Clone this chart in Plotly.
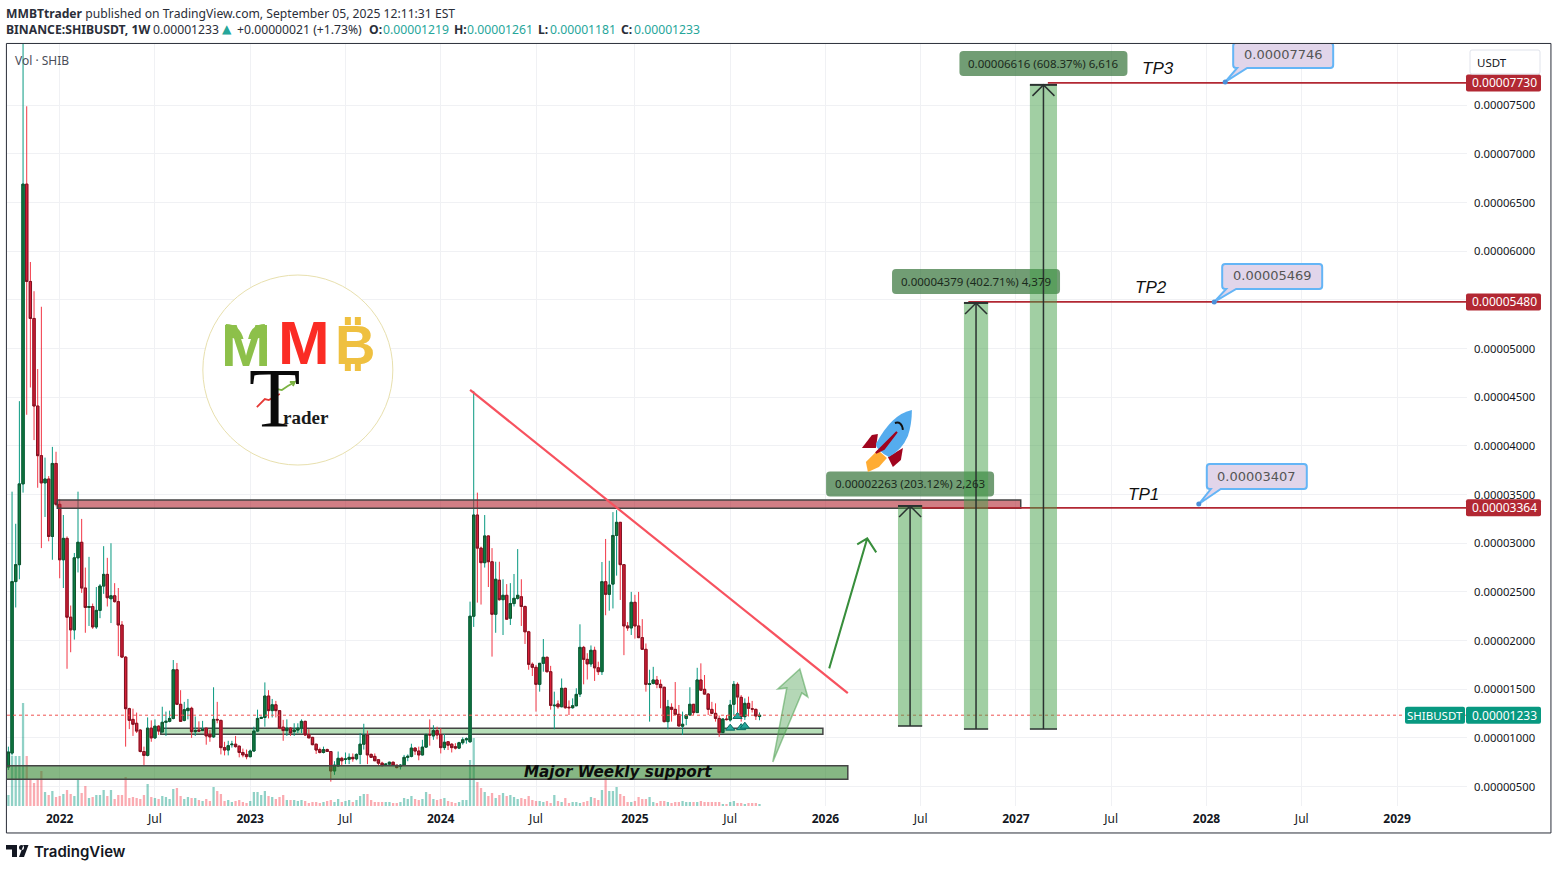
import plotly.graph_objects as go

# prices are in millionths of a USDT, x is the weekly bar number (0 = first week of 2022)
bars = list(range(-14, 192))

opens = [7.0,8.44,26.06,27.8,36.1,66.9,56.9,53.1,44.1,39.0,
    36.2,36.6,30.7,38.2,34.0,28.3,30.5,22.4,21.1,28.5,
    30.1,25.4,23.4,23.5,21.4,23.1,25.6,26.8,24.3,24.6,
    24.0,21.6,18.3,13.0,11.9,11.5,10.8,8.6,8.2,11.0,
    10.0,11.2,10.6,11.6,11.7,12.0,17.0,13.45,11.8,12.8,
    13.04,10.64,10.8,10.75,11.0,10.36,10.1,11.9,11.8,9.0,
    8.75,9.3,9.35,9.15,8.5,8.3,8.07,8.65,10.7,12.0,
    12.1,14.3,12.8,13.4,12.8,11.1,10.75,11.0,10.65,10.8,
    11.0,11.7,10.35,10.05,9.35,8.8,8.5,8.8,8.6,6.6,
    7.1,7.9,7.8,7.8,8.0,7.85,8.3,9.35,10.3,8.3,
    8.1,7.75,7.4,7.25,7.3,7.5,7.2,7.05,7.2,8.0,
    8.1,8.95,8.65,8.25,9.05,10.35,10.2,10.75,10.35,9.0,
    9.6,9.35,9.1,8.95,9.5,9.8,9.6,22.5,32.9,29.5,
    28.0,30.75,28.1,22.7,26.2,24.2,24.65,22.3,23.8,24.34,
    24.5,23.5,20.9,17.56,17.25,15.5,17.66,18.28,16.8,13.3,
    13.48,13.2,15.09,13.15,13.1,13.3,14.5,19.3,18.07,17.6,
    19.0,17.2,16.8,26.05,24.75,25.8,30.8,32.15,27.8,21.5,
    21.3,23.93,21.5,20.3,19.1,15.5,15.6,15.95,15.5,15.2,
    11.67,13.14,12.93,12.42,11.2,12.0,12.35,13.45,12.6,15.95,
    14.99,14.5,12.93,12.52,12.0,10.54,11.94,11.84,13.45,15.5,
    14.17,12.18,13.55,13.0,12.93,12.19]

closes = [8.55,26.06,27.8,36.1,66.9,56.9,53.1,44.1,39.0,36.2,
    36.6,30.7,38.2,34.0,28.3,30.5,22.4,21.1,28.5,30.1,
    25.4,23.4,23.5,21.4,23.1,25.6,26.8,24.4,24.6,24.0,
    21.6,18.3,13.0,11.8,11.4,10.7,8.6,8.2,11.0,10.0,
    11.2,10.7,11.6,11.7,12.0,17.0,13.45,11.7,12.9,13.04,
    10.64,10.75,10.7,10.85,10.2,10.1,11.9,11.85,9.0,8.75,
    9.2,9.35,9.1,8.5,8.25,8.07,8.65,10.7,12.0,12.1,
    14.3,12.8,13.4,12.8,11.0,10.75,11.0,10.5,10.8,11.0,
    11.7,10.3,10.0,9.3,8.75,8.5,8.8,8.6,6.6,7.2,
    7.9,7.65,7.83,8.0,7.85,8.3,9.35,10.3,8.25,8.0,
    7.65,7.4,7.2,7.3,7.5,7.2,6.95,7.2,8.0,8.1,
    8.95,8.65,8.25,9.05,10.35,10.3,10.75,10.3,9.0,9.55,
    9.25,9.0,8.95,9.5,9.8,9.9,22.5,32.9,29.5,28.0,
    30.75,28.1,22.7,26.3,24.2,24.65,22.2,23.8,24.34,24.65,
    23.5,20.9,17.56,17.25,15.5,17.66,18.28,16.8,13.34,13.35,
    13.2,15.09,13.1,13.1,13.3,14.47,19.3,18.07,17.6,19.0,
    17.2,16.8,26.05,24.75,25.7,30.8,32.15,27.8,21.5,21.3,
    23.93,21.5,20.3,19.1,15.5,15.55,15.95,15.5,15.16,11.67,
    13.2,12.93,12.42,11.22,11.4,12.35,13.45,12.6,15.95,14.9,
    14.5,12.93,12.52,12.0,10.54,11.94,11.88,13.38,15.5,14.2,
    12.18,13.55,13.04,12.95,12.25,12.33]

highs = [9.1,35.3,32.0,44.6,88.5,74.9,58.9,55.9,47.9,54.3,
    38.8,36.9,39.9,39.4,34.5,32.9,30.7,23.6,29.0,35.3,
    32.5,27.5,28.6,23.8,25.5,25.8,29.7,28.5,30.0,25.9,
    25.4,22.0,18.4,13.1,13.0,12.6,10.9,9.1,12.1,11.8,
    11.9,11.3,13.2,12.7,12.8,18.0,17.7,14.9,13.7,14.0,
    13.2,12.2,11.7,11.75,11.0,10.8,15.2,13.7,11.85,9.6,
    9.7,9.7,10.2,9.2,8.9,8.8,8.8,11.15,12.9,12.2,
    15.7,14.9,14.0,13.8,12.85,11.85,11.9,11.1,11.5,11.5,
    11.9,11.75,10.9,10.1,9.4,9.0,9.1,8.9,8.65,7.6,
    8.6,8.05,8.5,8.4,8.4,8.4,10.5,11.45,10.75,8.4,
    8.4,7.75,7.55,7.35,7.55,7.55,7.2,7.3,8.25,8.3,
    9.4,9.05,9.1,9.8,10.45,11.9,11.3,11.15,11.0,10.4,
    9.65,9.45,9.45,9.6,10.05,10.05,24.0,45.65,35.2,29.65,
    32.9,30.8,29.5,28.1,28.1,26.3,25.8,25.9,26.84,29.4,
    26.3,23.6,21.0,17.75,17.5,17.7,20.16,18.35,17.4,14.75,
    13.85,16.1,15.15,13.85,14.06,15.1,21.67,19.45,18.7,19.5,
    19.37,17.83,28.07,30.44,28.2,33.2,33.4,32.15,27.8,21.9,
    25.0,24.7,25.0,22.2,19.7,17.0,17.3,16.36,16.0,15.25,
    13.9,13.55,15.74,13.38,12.7,12.35,15.2,13.45,17.2,17.66,
    16.46,14.6,13.7,13.55,12.3,12.0,12.35,13.9,15.85,15.7,
    14.4,14.06,14.24,13.8,13.0,12.61]

lows = [6.7,8.2,23.4,26.3,35.2,43.2,46.0,40.6,35.7,29.5,
    32.7,30.2,28.3,33.8,26.4,25.4,17.1,18.8,20.1,27.0,
    24.9,20.8,21.5,21.2,21.2,22.3,24.8,23.5,21.8,23.9,
    18.4,18.2,9.1,10.9,10.2,10.5,8.5,7.2,8.1,9.6,
    9.9,10.3,10.6,10.2,11.6,11.9,13.4,11.65,11.7,11.9,
    10.0,10.2,10.6,10.7,9.3,9.6,10.0,11.5,8.3,8.2,
    8.2,9.0,9.0,8.0,8.0,7.8,8.0,8.6,10.6,11.95,
    11.15,12.0,12.1,12.1,10.9,9.7,10.2,10.2,10.2,10.5,
    10.5,10.2,10.0,9.25,8.35,8.4,8.4,8.55,5.5,6.2,
    7.05,7.1,7.3,7.3,7.55,7.7,7.3,8.8,7.3,8.0,
    7.65,7.2,7.0,7.1,7.1,7.1,6.85,6.75,7.2,7.6,
    8.0,8.25,7.7,8.2,9.0,9.2,9.8,9.85,8.4,8.75,
    8.75,8.5,8.8,8.85,9.3,9.4,9.5,21.4,23.9,23.7,
    27.5,25.5,18.35,20.8,24.1,20.57,22.15,21.6,23.5,24.2,
    21.5,19.65,17.0,16.36,12.7,14.75,16.8,16.7,12.9,10.88,
    13.0,13.15,13.0,12.35,13.0,13.25,14.2,15.5,16.0,17.3,
    15.85,16.46,16.46,22.6,23.07,23.3,26.67,24.17,18.5,21.0,
    20.57,20.2,20.25,19.05,14.75,11.67,15.5,15.1,13.04,11.6,
    10.88,11.67,12.35,11.2,10.3,11.3,12.3,12.35,12.55,14.85,
    14.45,12.35,12.45,11.67,10.1,10.5,11.8,11.67,12.35,12.6,
    11.67,11.84,12.2,12.6,11.84,11.81]

# volume, arbitrary units
volumes = [11,50,50,50,103,50,26,23,27,35,14,11,15,9,
    10,12,16,12,10,27,13,20,8,9,11,11,16,10,16,7,11,11,29,8,9,8,7,11,22,9,8,7,10,9,7,17,18,10,7,9,
    8,8,6,5,7,5,19,15,12,5,6,4,5,6,4,3,
    5,14,14,11,15,10,9,7,9,11,6,6,6,5,6,5,3,4,4,3,4,5,6,4,7,4,5,6,4,6,10,12,12,6,4,4,4,4,4,3,3,4,8,7,10,7,6,7,14,12,7,6,
    7,8,5,4,3,4,6,6,46,68,24,18,14,10,13,8,11,13,10,11,9,7,8,7,10,6,5,5,4,5,3,11,5,4,8,3,4,4,3,4,5,9,8,6,
    16,29,15,15,19,12,10,4,4,5,9,7,7,9,4,3,5,5,4,3,4,4,5,4,4,4,4,5,4,4,4,4,4,2,2,4,5,3,3,2,3,3,3,2]

assert len(opens) == len(closes) == len(highs) == len(lows) == len(volumes) == len(bars)

tick_bars = [0, 26, 52, 78, 104, 130, 157, 183, 209, 235, 261, 287, 313, 339, 365]
tick_labels = ["<b>2022</b>", "Jul", "<b>2023</b>", "Jul", "<b>2024</b>", "Jul", "<b>2025</b>", "Jul",
               "<b>2026</b>", "Jul", "<b>2027</b>", "Jul", "<b>2028</b>", "Jul", "<b>2029</b>"]
price_ticks = list(range(5, 80, 5))
price_labels = ["0.%08d" % (p * 100) for p in price_ticks]

pattern_bars = [183, 186, 187, 185]
pattern_prices = [11.0, 11.05, 11.2, 12.2]

tp_levels = [33.64, 54.80, 77.30]
tp_labels = ["0.00003364", "0.00005480", "0.00007730"]
last_price = 12.33
last_label = "0.00001233"

FIRST_BAR, LAST_BAR = -14.38, 384.1
LOW_PRICE, HIGH_PRICE = 3.0, 81.3
VOL_SCALE = 1 / 9.73

UP_WICK, DOWN_WICK = "#089981", "#f23645"
UP_BODY, DOWN_BODY = "#0b7d43", "#d81e36"
UP_EDGE, DOWN_EDGE = "#14532d", "#7a1524"
TEXT = "#131722"
GRID = "#f0f1f4"
TP_RED = "#b22833"
TEAL = "#089981"
UI_FONT = "Noto Sans"


def roundBox(x0, y0, x1, y1, r=3):
    return (f"M {x0+r} {y0} L {x1-r} {y0} Q {x1} {y0} {x1} {y0+r} L {x1} {y1-r} Q {x1} {y1} {x1-r} {y1} "
            f"L {x0+r} {y1} Q {x0} {y1} {x0} {y1-r} L {x0} {y0+r} Q {x0} {y0} {x0+r} {y0} Z")


def glyph(bar, price, path, fill="rgba(0,0,0,0)", color="rgba(0,0,0,0)", width=0, layer="above", xref="x", yref="y"):
    # path is in screen pixels around an anchor that sits on the axes
    return dict(type="path", xref=xref, yref=yref, xsizemode="pixel", ysizemode="pixel", xanchor=bar, yanchor=price,
                path=path, fillcolor=fill, line=dict(color=color, width=width), layer=layer)


def box(x0, x1, y0, y1, fill, edge="#444444", width=1.5, layer="above"):
    return dict(type="rect", x0=x0, x1=x1, y0=y0, y1=y1, fillcolor=fill, line=dict(color=edge, width=width), layer=layer)


def segment(x0, y0, x1, y1, color, width=1.5, dash="solid"):
    return dict(type="line", x0=x0, x1=x1, y0=y0, y1=y1, line=dict(color=color, width=width, dash=dash), layer="above")


def note(x, y, text, size=12, color=TEXT, family=UI_FONT, style="normal", xanchor="center", xshift=0, yshift=0, xref="x", yref="y", weight="normal"):
    return dict(x=x, y=y, xref=xref, yref=yref, text=text, showarrow=False, xanchor=xanchor, yanchor="middle",
                xshift=xshift, yshift=yshift, font=dict(size=size, color=color, family=family, style=style, weight=weight))


fig = go.Figure()

fig.add_trace(go.Bar(
    x=bars, y=[v * VOL_SCALE for v in volumes], base=LOW_PRICE, width=0.62,
    marker=dict(color=["rgba(8,153,129,0.45)" if c >= o else "rgba(242,54,69,0.42)" for o, c in zip(opens, closes)],
                line=dict(width=0)),
    hoverinfo="skip", showlegend=False
))
fig.add_trace(go.Candlestick(
    x=bars, open=opens, high=highs, low=lows, close=closes, whiskerwidth=0,
    increasing=dict(line=dict(color=UP_WICK, width=1), fillcolor=UP_BODY),
    decreasing=dict(line=dict(color=DOWN_WICK, width=1), fillcolor=DOWN_BODY),
    showlegend=False
))
fig.add_trace(go.Candlestick(
    x=bars, open=opens, close=closes,
    high=[max(o, c) for o, c in zip(opens, closes)],
    low=[min(o, c) for o, c in zip(opens, closes)], whiskerwidth=0,
    increasing=dict(line=dict(color=UP_EDGE, width=1), fillcolor=UP_BODY),
    decreasing=dict(line=dict(color=DOWN_EDGE, width=1), fillcolor=DOWN_BODY),
    showlegend=False
))
fig.add_trace(go.Scatter(
    x=pattern_bars, y=pattern_prices, mode="markers",
    marker=dict(symbol="triangle-up", size=8, color="#26a69a", line=dict(color="#0b6e62", width=1)),
    hoverinfo="skip", showlegend=False
))

shapes = []
notes = []

# support and resistance zones, trend line
shapes.append(box(27.6, 208.3, 10.37, 10.98, "rgba(76,175,80,0.4)", layer="between"))
shapes.append(box(-20, 215.1, 5.74, 7.14, "rgba(46,131,43,0.58)"))
shapes.append(box(-0.65, 262.3, 33.6, 34.45, "rgba(178,40,51,0.6)"))
shapes.append(segment(112, 45.75, 215.1, 14.6, "#f7525f", width=2.2))

# current price
shapes.append(segment(FIRST_BAR, last_price, LAST_BAR, last_price, "#ef5350", width=1, dash="dot"))

# take profit lines
for start, level in zip([235, 248, 269.7], tp_levels):
    shapes.append(segment(start, level, LAST_BAR, level, TP_RED, width=1.8))

# long position tools
for left, right, top, bottom, label, lx, ly in [
    (228.8, 235.4, 33.83, 11.22, "0.00002263 (203.12%) 2,263", 232.1, 36.1),
    (246.8, 253.4, 54.69, 10.91, "0.00004379 (402.71%) 4,379", 250.1, 56.9),
    (264.8, 272.2, 77.1, 10.91, "0.00006616 (608.37%) 6,616", 268.5, 79.3),
]:
    mid = (left + right) / 2
    shapes.append(box(left, right, bottom, top, "rgba(67,160,71,0.5)", edge="rgba(0,0,0,0)", width=0))
    shapes.append(segment(mid, bottom, mid, top, "#2a3230", width=1.5))
    shapes.append(segment(left, bottom, right, bottom, "#2a3230", width=1.5))
    shapes.append(segment(left, top, right, top, "#2a3230", width=2))
    shapes.append(glyph(mid, top, "M -11 -11 L 0 0 L 11 -11", color="#2a3230", width=1.5))
    shapes.append(glyph(lx, ly, roundBox(-84, -12.5, 84, 12.5, 4), fill="rgba(46,110,50,0.68)"))
    notes.append(note(lx, ly, label, size=11.5, color="#1b2a1c"))

# price note callouts
for bar, price, box_low, text in [
    (318.1, 77.4, 14, "0.00007746"),
    (315.1, 54.8, 13, "0.00005469"),
    (310.9, 34.03, 15, "0.00003407"),
]:
    callout = (f"M 8 {box_low+3} Q 8 {box_low} 11 {box_low} L 12 {box_low} L 0 0 L 22 {box_low} L 105 {box_low} "
               f"Q 108 {box_low} 108 {box_low+3} L 108 {box_low+22} Q 108 {box_low+25} 105 {box_low+25} "
               f"L 11 {box_low+25} Q 8 {box_low+25} 8 {box_low+22} Z")
    shapes.append(glyph(bar, price, callout, fill="#e1d5ea", color="#64b5f6", width=2))
    shapes.append(glyph(bar, price, "M -2.5 0 Q -2.5 2.5 0 2.5 Q 2.5 2.5 2.5 0 Q 2.5 -2.5 0 -2.5 Q -2.5 -2.5 -2.5 0 Z", fill="#4a90d9"))
    notes.append(note(bar, price, text, size=13, color="#555555", family="DejaVu Sans", xshift=58, yshift=box_low + 13))

for bar, price, text in [(299.8, 78.74, "TP3"), (297.8, 56.23, "TP2"), (295.9, 35.06, "TP1")]:
    notes.append(note(bar, price, text, size=17, color="#111111", family="Liberation Sans", style="italic"))

notes.append(note(152.5, 6.45, "<b>Major Weekly support</b>", size=15.2, color="#0d0d0d", family="DejaVu Sans", style="italic"))

# green arrows
shapes.append(glyph(220.4, 30.5, "M -38 -130 L 0 0 M -10 -6 L 0 0 L 9 -14", color="#388e3c", width=2))
shapes.append(glyph(202, 17.08, "M 0 0 L -22 -20 L -13 -19 L -27 -93 L 2 -24 L 8 -28 Z",
                    fill="rgba(76,160,80,0.42)", color="rgba(76,160,80,0.55)", width=1.5))

# rocket
ROCKET_BAR, ROCKET_PRICE = 225.5, 40.0
shapes.append(glyph(ROCKET_BAR, ROCKET_PRICE, "M -24 -2 L -14 11 L -8 12 L -10 -2 Z", fill="#a0041e"))
shapes.append(glyph(ROCKET_BAR, ROCKET_PRICE, "M 17 -2 L 15 -14 L 7 -21 L 2 -11 Z", fill="#a0041e"))
shapes.append(glyph(ROCKET_BAR, ROCKET_PRICE, "M -8 -4 L -20 -16 L -18 -26 L -7 -21 L 1 -12 Z", fill="#ffac33"))
shapes.append(glyph(ROCKET_BAR, ROCKET_PRICE, "M 26 36 Q 6 32 -10 2 Q -10 -4 3 -11 Q 16 -4 22 10 Q 26 22 26 36 Z", fill="#55acee"))
shapes.append(glyph(ROCKET_BAR, ROCKET_PRICE, "M 11 14 L -10 -7 L -2 -3 Z", fill="#a0041e", color="#a0041e", width=2))
shapes.append(glyph(ROCKET_BAR, ROCKET_PRICE, "M 9 23 Q 16 25 17 16", color="#111111", width=2))

# logo
shapes.append(dict(type="circle", xref="x", yref="y", xsizemode="pixel", ysizemode="pixel", xanchor=65, yanchor=47.8,
                   x0=-95, x1=95, y0=-95, y1=95, fillcolor="white", line=dict(color="#e8e0ae", width=1), layer="between"))
notes.append(note(65, 47.8, "<b>M</b>", size=60, color="#8dc04a", family="Liberation Sans", xshift=-52, yshift=25))
notes.append(note(65, 47.8, "<b>M</b>", size=62, color="#fb2c24", family="Liberation Sans", xshift=6, yshift=28))
notes.append(note(65, 47.8, "<b>B</b>", size=56, color="#efc040", family="Liberation Sans", xshift=57, yshift=26))
shapes.append(glyph(65, 47.8, "M -72 46 Q -58 46 -54 30 L -72 33 Z M -33 46 Q -47 46 -50 30 L -33 33 Z", fill="#8dc04a"))
shapes.append(glyph(65, 47.8, "M -60 31 L -54 10 L -46 10 L -40 31 Z", fill="#ffffff"))
shapes.append(glyph(65, 47.8, "M 47 53 L 47 45 L 53 45 L 53 53 Z M 57 53 L 57 45 L 63 45 L 63 53 Z "
                              "M 47 8 L 47 -1 L 53 -1 L 53 8 Z M 57 8 L 57 -1 L 63 -1 L 63 8 Z", fill="#efc040"))
shapes.append(glyph(65, 47.8, "M -2 21 Q -2 29 6 29 Q 14 29 14 21 Q 14 12 6 12 Q -2 12 -2 21 Z", fill="#ffffff"))
notes.append(note(65, 47.8, "T", size=84, color="#0a0a0a", family="Liberation Serif", xshift=-23, yshift=-28))
notes.append(note(65, 47.8, "<b>rader</b>", size=19, color="#1a1a1a", family="Liberation Serif", xshift=8, yshift=-47))
shapes.append(glyph(65, 47.8, "M -41 -37 L -33 -29 L -29 -30 L -24 -27 L -18 -24", color="#e53935", width=1.8))
shapes.append(glyph(65, 47.8, "M -26 -23 L -21 -19 L -16 -20 L -10 -16 L -3 -12 L -5 -16 M -3 -12 L -8 -12", color="#7cb342", width=1.8))

# price tags on the right
TAG_SIZE = 12
AXIS_SIZE = 11.3
for level, text in zip(tp_levels, tp_labels):
    shapes.append(glyph(1, level, roundBox(-1, -8.5, 74, 8.5, 2), fill=TP_RED, xref="paper"))
    notes.append(note(1, level, text, size=TAG_SIZE, color="white", xshift=37, xref="paper"))
shapes.append(glyph(1, last_price, roundBox(-1, -8.5, 74, 8.5, 2), fill=TEAL, xref="paper"))
shapes.append(glyph(1, last_price, roundBox(-62, -8.5, -2, 8.5, 2), fill=TEAL, xref="paper"))
notes.append(note(1, last_price, last_label, size=TAG_SIZE, color="white", xshift=37, xref="paper"))
notes.append(note(1, last_price, "SHIBUSDT", size=11.5, color="white", xshift=-32, xref="paper"))

# chart frame, currency box, TradingView mark
shapes.append(dict(type="rect", xref="paper", yref="paper", x0=-0.0004, x1=1.0575, y0=-0.0354, y1=1.0007,
                   line=dict(color="#2a2e39", width=1), fillcolor="rgba(0,0,0,0)", layer="above"))
shapes.append(glyph(1, 1, roundBox(3, -30, 73, -6, 2), color="#e0e3eb", width=1, xref="paper", yref="paper"))
notes.append(note(1, 1, "USDT", size=11.5, color=TEXT, xshift=25, yshift=-18, xref="paper", yref="paper"))
notes.append(note(0.0, 1, "Vol · SHIB", size=12, color="#4a4e59", xanchor="left", xshift=6, yshift=-16, xref="paper", yref="paper"))

shapes.append(glyph(0, 0, "M -1 -39 L 10 -39 L 10 -51 L 5 -51 L 5 -43.5 L -1 -43.5 Z "
                          "M 12 -51 L 17 -51 L 21.5 -39 L 16.5 -39 Z "
                          "M 12 -41.5 Q 12 -39 14.5 -39 Q 17 -39 17 -41.5 Q 17 -44 14.5 -44 Q 12 -44 12 -41.5 Z",
                    fill="#131722", xref="paper", yref="paper"))
notes.append(note(0, 0, "TradingView", size=15, color="#131722", family="Inter", weight=600, xanchor="left", xshift=25, yshift=-45, xref="paper", yref="paper"))

# header lines
notes.append(note(0, 1, "<b>MMBTtrader</b> published on TradingView.com, September 05, 2025 12:11:31 EST",
                  size=12.15, color="#2a2e39", xanchor="left", xshift=-3, yshift=31, xref="paper", yref="paper"))
UP_TEXT = "#26a69a"
for px, text, colour, family in [
    (6, "<b>BINANCE:SHIBUSDT, 1W</b>", "#2a2e39", UI_FONT),
    (153, "0.00001233", "#2a2e39", UI_FONT),
    (222, "▲", UP_TEXT, "DejaVu Sans"),
    (237, "+0.00000021 (+1.73%)", "#2a2e39", UI_FONT),
    (369, "<b>O:</b>", "#2a2e39", UI_FONT),
    (383, "0.00001219", UP_TEXT, UI_FONT),
    (454, "<b>H:</b>", "#2a2e39", UI_FONT),
    (467, "0.00001261", UP_TEXT, UI_FONT),
    (538, "<b>L:</b>", "#2a2e39", UI_FONT),
    (550, "0.00001181", UP_TEXT, UI_FONT),
    (621, "<b>C:</b>", "#2a2e39", UI_FONT),
    (634, "0.00001233", UP_TEXT, UI_FONT),
]:
    notes.append(note(0, 1, text, size=12.2, color=colour, family=family, xanchor="left", xshift=px - 9,
                      yshift=15, xref="paper", yref="paper"))

fig.update_layout(
    width=1558, height=870, margin=dict(l=7, r=91, t=44, b=64),
    paper_bgcolor="white", plot_bgcolor="white",
    barmode="overlay", boxgap=0.1, hovermode=False, showlegend=False,
    font=dict(family=UI_FONT, size=12, color=TEXT),
    shapes=shapes, annotations=notes,
    xaxis=dict(range=[FIRST_BAR, LAST_BAR], tickvals=tick_bars, ticktext=tick_labels, showgrid=True, gridcolor=GRID,
               gridwidth=1, zeroline=False, showline=False, ticks="", ticklabelstandoff=4, rangeslider=dict(visible=False),
               tickfont=dict(size=12, color=TEXT)),
    yaxis=dict(range=[LOW_PRICE, HIGH_PRICE], tickvals=price_ticks, ticktext=price_labels, side="right", showgrid=True,
               gridcolor=GRID, gridwidth=1, zeroline=False, showline=False, ticks="", ticklabelstandoff=6,
               tickfont=dict(size=AXIS_SIZE, color=TEXT)),
)

fig.write_html("out.html", config={"displayModeBar": False}, post_script="document.body.style.margin='0';")
